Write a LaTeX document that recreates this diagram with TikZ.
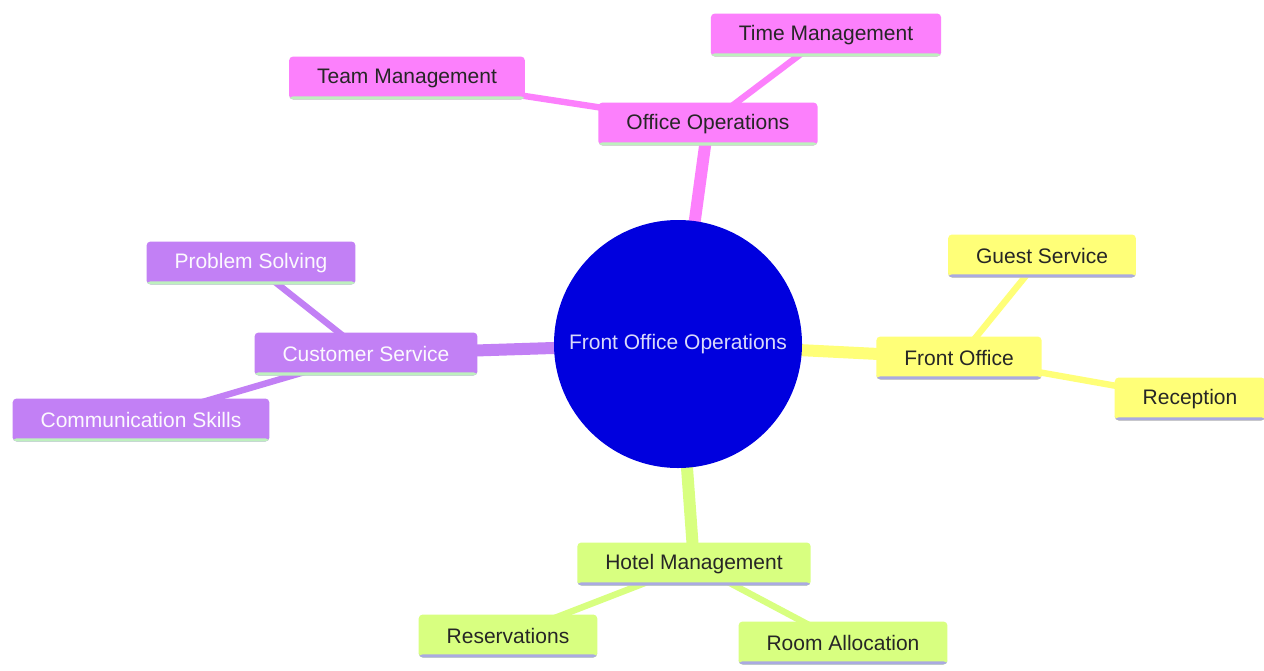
\documentclass[tikz,border=0pt]{standalone}
\usepackage{fontspec}
\setmainfont{Liberation Sans}
\usetikzlibrary{backgrounds}

\definecolor{pinkbr}{RGB}{252,128,252}
\definecolor{purplebr}{RGB}{194,128,245}
\definecolor{yellowbr}{RGB}{255,255,120}
\definecolor{greenbr}{RGB}{216,255,128}
\definecolor{rootblue}{RGB}{0,0,222}
\definecolor{lavline}{RGB}{170,170,225}
\definecolor{mintline}{RGB}{190,240,190}

\begin{document}
\begin{tikzpicture}[x=0.5pt,y=-0.5pt,
    font=\fontsize{10.5}{12}\selectfont,
    leaf/.style={rectangle, rounded corners=2pt, minimum height=21.5pt,
        inner xsep=14pt, inner ysep=0pt, text=black!85},
    bottomline/.style={path picture={\fill[#1]
        ([yshift=1.6pt]path picture bounding box.south west) rectangle
        (path picture bounding box.south east);}},
    officebr/.style={leaf, fill=pinkbr, bottomline=mintline},
    custbr/.style={leaf, fill=purplebr, text=white!95!purplebr, bottomline=mintline},
    frontbr/.style={leaf, fill=yellowbr, bottomline=lavline},
    hotelbr/.style={leaf, fill=greenbr, bottomline=lavline},
    rootnode/.style={circle, fill=rootblue, minimum size=124pt, inner sep=0pt,
        text=white!85!rootblue},
    trunk/.style={line width=6pt},
    twig/.style={line width=3.2pt},
  ]
\useasboundingbox (0,0) rectangle (1264,670);

% centre
\node[rootnode] (root) at (678,344) {Front Office Operations};

% office operations
\node[officebr] (office) at (708,124) {Office Operations};
\node[officebr] (time) at (826,35) {Time Management};
\node[officebr] (team) at (407,78) {Team Management};

% customer service
\node[custbr] (cust) at (366,354) {Customer Service};
\node[custbr] (problem) at (251,263) {Problem Solving};
\node[custbr] (comm) at (141,420) {Communication Skills};

% front office
\node[frontbr] (front) at (959,358) {Front Office};
\node[frontbr] (guest) at (1042,256) {Guest Service};
\node[frontbr] (recep) at (1190,399) {Reception};

% hotel management
\node[hotelbr] (hotel) at (694,564) {Hotel Management};
\node[hotelbr] (reserv) at (508,636) {Reservations};
\node[hotelbr] (room) at (843,643) {Room Allocation};

\begin{pgfonlayer}{background}
    \fill[white] (0,0) rectangle (1264,670);
    \foreach \a/\b/\s/\c in {root/office/trunk/pinkbr, office/time/twig/pinkbr,
        office/team/twig/pinkbr, root/cust/trunk/purplebr, cust/problem/twig/purplebr,
        cust/comm/twig/purplebr, root/front/trunk/yellowbr, front/guest/twig/yellowbr,
        front/recep/twig/yellowbr, root/hotel/trunk/greenbr, hotel/reserv/twig/greenbr,
        hotel/room/twig/greenbr}
    \draw[\s, \c] (\a.center) -- (\b.center);
\end{pgfonlayer}
\end{tikzpicture}
\end{document}
